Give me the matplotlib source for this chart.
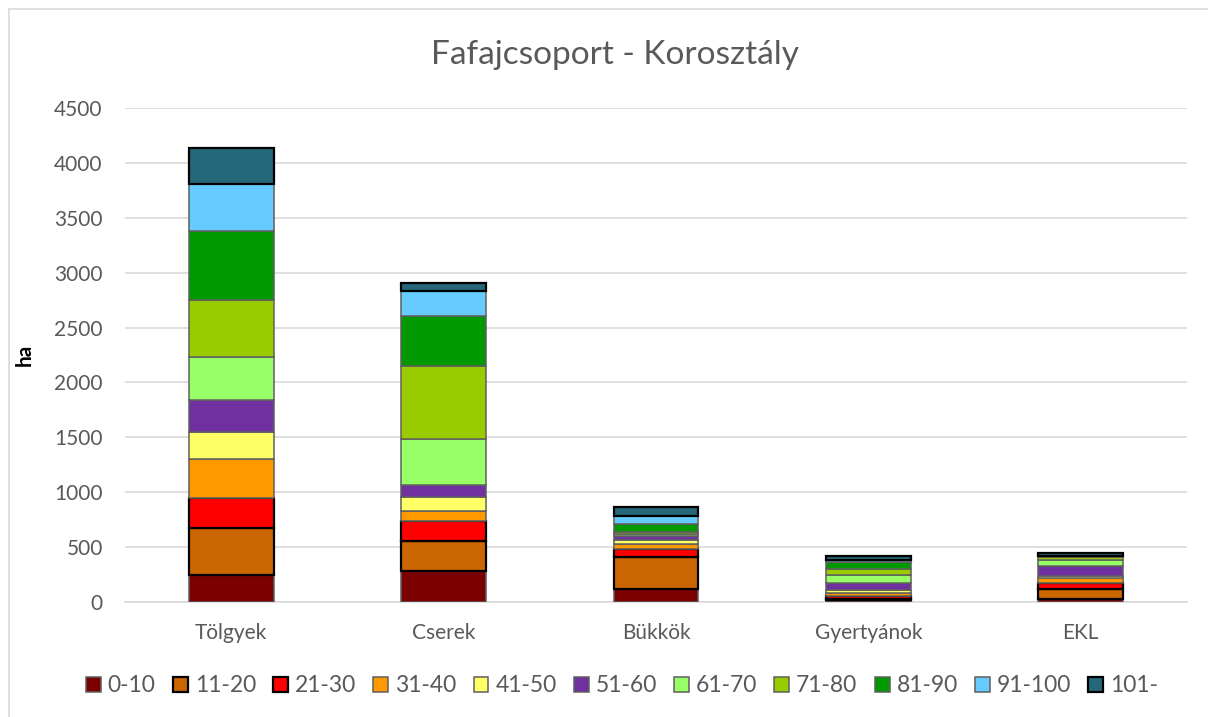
import matplotlib
matplotlib.use("Agg")
import matplotlib.pyplot as plt
from matplotlib.lines import Line2D
import numpy as np

plt.rcParams['font.family'] = ['Lato', 'DejaVu Sans']

categories = ["Tölgyek", "Cserek", "Bükkök", "Gyertyánok", "EKL"]
age_classes = ["0-10", "11-20", "21-30", "31-40", "41-50", "51-60",
               "61-70", "71-80", "81-90", "91-100", "101-"]

v_0_10 = [245, 282, 118, 15, 27]
v_11_20 = [425, 275, 294, 15, 88]
v_21_30 = [278, 182, 74, 25, 55]
v_31_40 = [358, 88, 43, 27, 48]
v_41_50 = [239, 130, 35, 27, 23]
v_51_60 = [298, 107, 36, 61, 86]
v_61_70 = [387, 418, 20, 78, 58]
v_71_80 = [524, 672, 22, 55, 24]
v_81_90 = [628, 452, 67, 58, 8]
v_91_100 = [424, 224, 70, 25, 6]
v_101 = [327, 72, 84, 35, 22]

series = [v_0_10, v_11_20, v_21_30, v_31_40, v_41_50, v_51_60,
          v_61_70, v_71_80, v_81_90, v_91_100, v_101]

colors = ["#7B0000", "#CC6600", "#FF0000", "#FF9900", "#FFFF66", "#7030A0",
          "#99FF66", "#99CC00", "#009900", "#66CCFF", "#25687A"]
edges = ["#5F5F5F", "#000000", "#000000", "#5F5F5F", "#5F5F5F", "#5F5F5F",
         "#5F5F5F", "#5F5F5F", "#5F5F5F", "#5F5F5F", "#000000"]

W, H = 1208, 717
fig = plt.figure(figsize=(W / 100, H / 100), dpi=100)
ax = fig.add_axes([125 / W, 1 - 602 / H, (1187 - 125) / W, (602 - 108) / H])

x = np.arange(len(categories))
bottom = np.zeros(len(categories))
for vals, c, e, lab in zip(series, colors, edges, age_classes):
    lw = 1.6 if e == "#000000" else 1.1
    ax.bar(x, vals, width=0.40, bottom=bottom, color=c, edgecolor=e,
           linewidth=lw, label=lab, zorder=3)
    bottom += np.array(vals)

ax.set_xlim(-0.5, len(categories) - 0.5)
ax.set_ylim(0, 4500)
ax.set_yticks(np.arange(0, 4501, 500))
ax.set_xticks(x)
ax.set_xticklabels(categories)
ax.grid(axis='y', color='#D9D9D9', linewidth=1.2, zorder=0)
ax.set_axisbelow(True)
for s in ['top', 'right', 'left']:
    ax.spines[s].set_visible(False)
ax.spines['bottom'].set_color('#D9D9D9')
ax.spines['bottom'].set_linewidth(1.2)
ax.tick_params(axis='both', length=0, colors='#595959', labelsize=15)
ax.tick_params(axis='y', pad=16)
ax.tick_params(axis='x', pad=15)

ax.set_ylabel("ha", fontsize=15, fontweight='bold', color='#000000')
ax.yaxis.set_label_coords((35 - 125) / 1062, 0.5)

fig.text(615 / W, 1 - 55 / H, "Fafajcsoport - Korosztály", ha='center', va='center',
         fontsize=24, color='#595959')

handles, labels = ax.get_legend_handles_labels()
leg = fig.legend(handles, labels, loc='center', bbox_to_anchor=(622 / W, 1 - 686 / H),
                 ncol=11, frameon=False, fontsize=16.5, handlelength=0.65,
                 handleheight=0.65, handletextpad=0.3, columnspacing=0.75)
for t in leg.get_texts():
    t.set_color('#595959')

# chart area border
fig.add_artist(Line2D([9 / W, 1.0], [1 - 9 / H, 1 - 9 / H], color='#D9D9D9', linewidth=1.2))
fig.add_artist(Line2D([9 / W, 9 / W], [0, 1 - 9 / H], color='#D9D9D9', linewidth=1.2))

fig.savefig("out.png", dpi=100)
